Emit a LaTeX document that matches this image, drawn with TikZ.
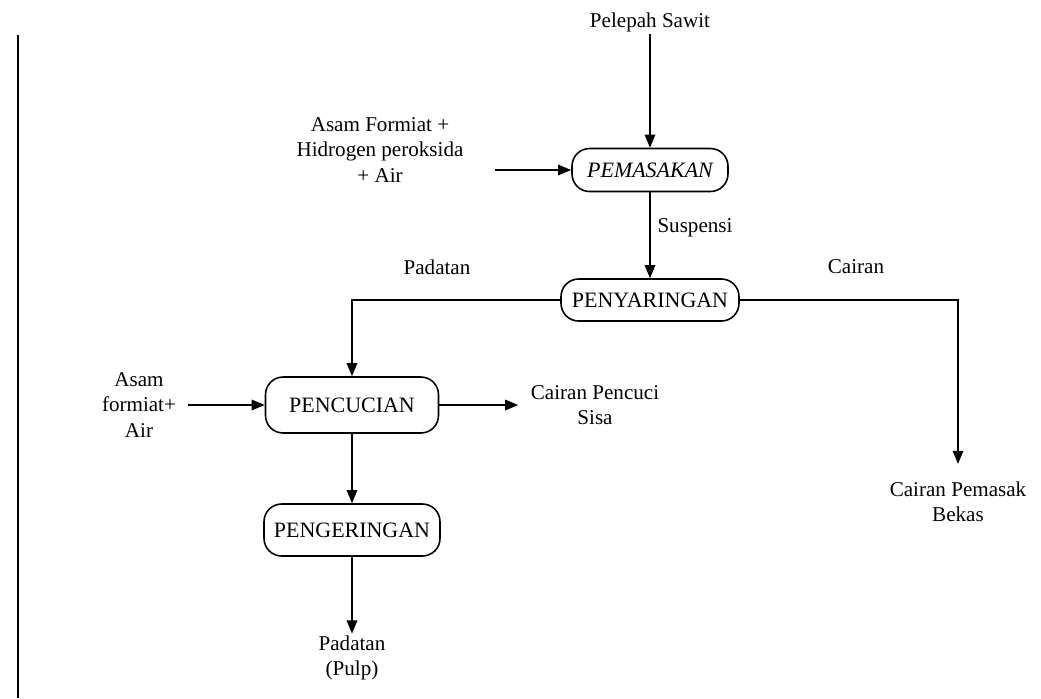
\documentclass[tikz,border=0pt]{standalone}
\usepackage{fontspec}
\setmainfont{Liberation Serif}
\usepackage{tikz}
\usetikzlibrary{arrows.meta}

\begin{document}
\begin{tikzpicture}[x=0.02cm, y=-0.02cm,
	txt/.style={align=center, inner sep=1pt, font=\fontsize{12}{14.5}\selectfont},
	proc/.style={draw=black, line width=0.9pt, rounded corners=10pt, inner sep=2pt, font=\fontsize{12.5}{15}\selectfont},
	flow/.style={line width=1pt, -{Triangle[length=7.5pt, width=6pt]}}]
	\useasboundingbox (0,0) rectangle (1041,698);
	% frame line on the left
	\draw[line width=1.6pt] (18,35) -- (18,698);

	% process steps
	\node[proc, minimum width=3.12cm, minimum height=0.86cm] (node1) at (650,170) {\itshape PEMASAKAN};
	\node[proc, minimum width=3.56cm, minimum height=0.84cm] (node4) at (650,300) {PENYARINGAN};
	\node[proc, minimum width=3.46cm, minimum height=1.12cm] (node6) at (352,405) {PENCUCIAN};
	\node[proc, minimum width=3.52cm, minimum height=1.04cm] (node8) at (352,530) {PENGERINGAN};

	% inputs and outputs
	\node[txt] (node0) at (650,22) {Pelepah Sawit};
	\node[txt] (node2) at (380,150) {Asam Formiat +\\Hidrogen peroksida\\+ Air};
	\node[txt] (node5) at (139,405) {Asam\\formiat+\\Air};
	\node[txt] (node7) at (595,405) {Cairan Pencuci\\Sisa};
	\node[txt] (node9) at (958,502) {Cairan Pemasak\\Bekas};
	\node[txt] (node10) at (352,658) {Padatan\\(Pulp)};
	\coordinate (c0) at (495,170);
	\coordinate (c1) at (188,405);

	% stream labels
	\node[txt] (lab0) at (695,228) {Suspensi};
	\node[txt] (lab1) at (437,267) {Padatan};
	\node[txt] (lab2) at (856,267) {Cairan};

	% connectors
	\draw[flow] (node0) -- (node1);
	\draw[flow] (c0) -- (node1.west);
	\draw[flow] (node1) -- (node4);
	\draw[flow] (node4.west) -| (node6.north);
	\draw[flow] (node4.east) -| ([yshift=9pt]node9.north);
	\draw[flow] (c1) -- (node6.west);
	\draw[flow] (node6.east) -- ([xshift=-6pt]node7.west);
	\draw[flow] (node6) -- (node8);
	\draw[flow] (node8) -- (node10);
\end{tikzpicture}
\end{document}
